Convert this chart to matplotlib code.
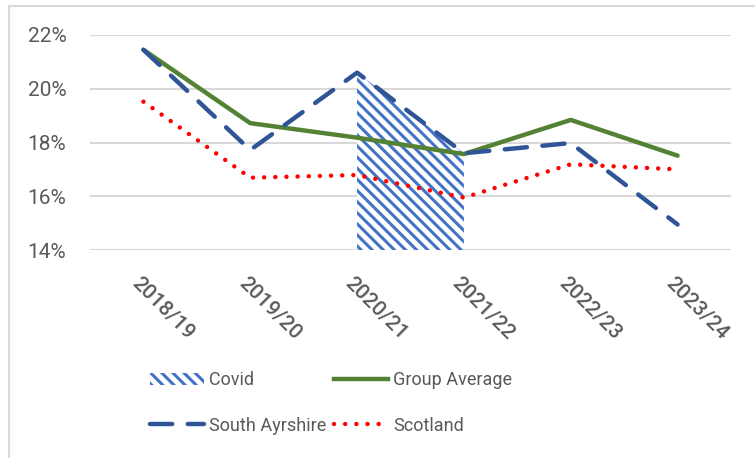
import matplotlib.pyplot as plt
import matplotlib.transforms as mtransforms
from matplotlib.lines import Line2D
from matplotlib.patches import Patch
import numpy as np

years = ['2018/19', '2019/20', '2020/21', '2021/22', '2022/23', '2023/24']
group_average = [21.45, 18.72, 18.18, 17.57, 18.84, 17.51]
south_ayrshire = [21.45, 17.72, 20.6, 17.6, 17.98, 14.95]
scotland = [19.52, 16.69, 16.79, 15.95, 17.19, 17.0]
covid = [np.nan, np.nan, 20.6, 17.6, np.nan, np.nan]

plt.rcParams['font.family'] = ['Roboto', 'DejaVu Sans']
plt.rcParams['hatch.linewidth'] = 2.2
plt.rcParams['hatch.color'] = '#4472C4'
grey = '#595959'

fig = plt.figure(figsize=(7.55, 4.58), dpi=100)
ax = fig.add_axes([90 / 755, 1 - 250 / 458, 641 / 755, 215 / 458])

x = np.arange(len(years))
cv = np.array(covid)
ax.fill_between(x, 14, cv, where=~np.isnan(cv), facecolor='white',
                edgecolor='#4472C4', hatch='\\\\\\', linewidth=0, zorder=2)
ax.plot(x, group_average, color='#548235', lw=3.2, solid_capstyle='round', zorder=3)
ax.plot(x, south_ayrshire, color='#2F5597', lw=3.2, dashes=(5, 3.5),
        dash_capstyle='round', zorder=4)
ax.plot(x, scotland, color='#FF0000', lw=3.2, dashes=(0.01, 2.5),
        dash_capstyle='round', zorder=5)

ax.set_xlim(-0.5, len(years) - 0.5)
ax.set_ylim(14, 22)
ax.set_yticks([14, 16, 18, 20, 22])
ax.set_yticklabels([f'{v}%' for v in [14, 16, 18, 20, 22]])
ax.set_xticks(x)
ax.set_xticklabels([])

# slanted category labels, nudged down and left of each category
xlab = mtransforms.blended_transform_factory(ax.transData, ax.transAxes)
nudge = mtransforms.ScaledTranslation(-0.09, -0.30, fig.dpi_scale_trans)
for i, yr in enumerate(years):
    ax.text(i, 0, yr, transform=xlab + nudge, rotation=-45, rotation_mode='anchor',
            ha='left', va='center', fontsize=15, color=grey, fontweight='medium')

ax.tick_params(axis='y', length=0, labelsize=15, colors=grey, pad=17)
ax.tick_params(axis='x', length=0)
ax.grid(axis='y', color='#D9D9D9', lw=1.5)
ax.set_axisbelow(True)
for s in ax.spines.values():
    s.set_visible(False)

handles = [
    Patch(facecolor='white', edgecolor='#4472C4', hatch='\\\\\\', lw=0),
    Line2D([], [], color='#2F5597', lw=3.2, dashes=(5, 3.5), dash_capstyle='round'),
    Line2D([], [], color='#548235', lw=3.2),
    Line2D([], [], color='#FF0000', lw=3.2, dashes=(0.01, 2.5), dash_capstyle='round'),
]
labels = ['Covid', 'South Ayrshire', 'Group Average', 'Scotland']
leg = fig.legend(handles, labels, ncol=2, loc='center', bbox_to_anchor=(331 / 755, 1 - 403 / 458),
                 frameon=False, fontsize=13, handlelength=3.0, columnspacing=0.4,
                 handletextpad=0.3, labelspacing=1.5)
for t in leg.get_texts():
    t.set_color(grey)

# chart frame edges
fig.add_artist(Line2D([9 / 755, 9 / 755], [0, 1 - 6 / 458], transform=fig.transFigure,
                      color='#D9D9D9', lw=1.5))
fig.add_artist(Line2D([9 / 755, 1], [1 - 6 / 458, 1 - 6 / 458], transform=fig.transFigure,
                      color='#D9D9D9', lw=1.5))

fig.savefig('out.png', dpi=100)
